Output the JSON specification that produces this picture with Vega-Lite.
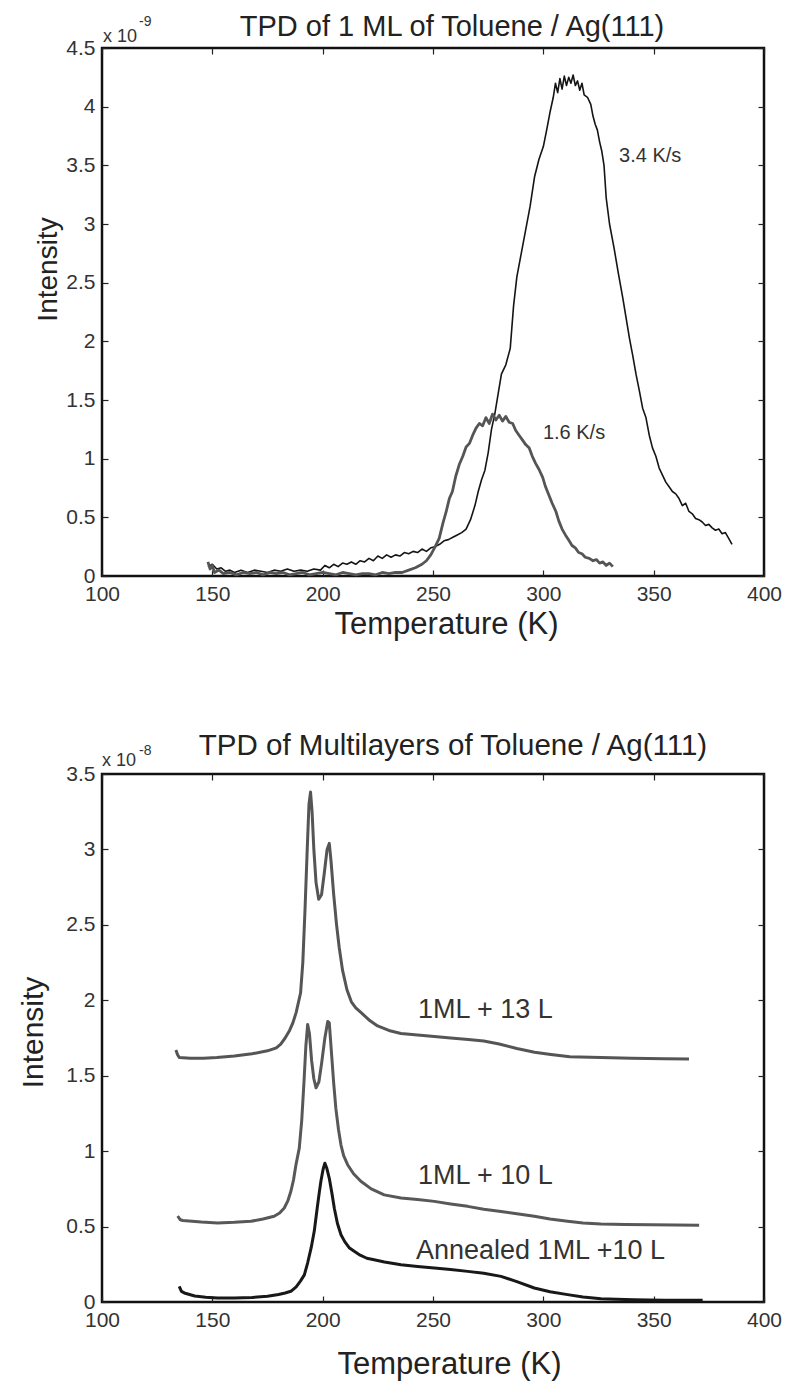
{
  "$schema": "https://vega.github.io/schema/vega-lite/v6.json",
  "background": "white",
  "padding": {"left": 16, "top": 11, "right": 5, "bottom": 5},
  "spacing": 88,
  "resolve": {"scale": {"color": "independent", "strokeWidth": "independent"}},
  "config": {
    "font": "Liberation Sans",
    "view": {"stroke": "#111111", "strokeWidth": 2.5},
    "axis": {
      "domain": false, "grid": false, "ticks": true, "tickSize": -6, "tickColor": "#222222", "tickWidth": 1.2,
      "labelFont": "Liberation Sans", "labelFontSize": 21, "labelColor": "#333333", "labelPadding": 13,
      "labelFlush": false, "labelOverlap": false, "labelBound": false,
      "titleFont": "Liberation Sans", "titleFontWeight": "normal", "titleColor": "#222222"
    }
  },
  "datasets": {
    "top": [
      {"T":148,"I":0.08,"series":"3.4 K/s"},{"T":150,"I":0.10,"series":"3.4 K/s"},{"T":152,"I":0.06,"series":"3.4 K/s"},{"T":154,"I":0.07,"series":"3.4 K/s"},{"T":156,"I":0.04,"series":"3.4 K/s"},{"T":158,"I":0.05,"series":"3.4 K/s"},{"T":160,"I":0.03,"series":"3.4 K/s"},{"T":163,"I":0.05,"series":"3.4 K/s"},{"T":166,"I":0.03,"series":"3.4 K/s"},{"T":169,"I":0.05,"series":"3.4 K/s"},{"T":172,"I":0.04,"series":"3.4 K/s"},{"T":175,"I":0.03,"series":"3.4 K/s"},{"T":178,"I":0.05,"series":"3.4 K/s"},{"T":181,"I":0.04,"series":"3.4 K/s"},{"T":184,"I":0.06,"series":"3.4 K/s"},{"T":187,"I":0.04,"series":"3.4 K/s"},{"T":190,"I":0.05,"series":"3.4 K/s"},{"T":193,"I":0.04,"series":"3.4 K/s"},{"T":196,"I":0.06,"series":"3.4 K/s"},{"T":199,"I":0.05,"series":"3.4 K/s"},{"T":201,"I":0.09,"series":"3.4 K/s"},{"T":203,"I":0.07,"series":"3.4 K/s"},{"T":205,"I":0.10,"series":"3.4 K/s"},{"T":207,"I":0.08,"series":"3.4 K/s"},{"T":209,"I":0.11,"series":"3.4 K/s"},{"T":211,"I":0.10,"series":"3.4 K/s"},{"T":213,"I":0.12,"series":"3.4 K/s"},{"T":215,"I":0.10,"series":"3.4 K/s"},{"T":217,"I":0.13,"series":"3.4 K/s"},{"T":219,"I":0.12,"series":"3.4 K/s"},{"T":221,"I":0.15,"series":"3.4 K/s"},{"T":223,"I":0.13,"series":"3.4 K/s"},{"T":225,"I":0.17,"series":"3.4 K/s"},{"T":227,"I":0.15,"series":"3.4 K/s"},{"T":229,"I":0.18,"series":"3.4 K/s"},{"T":231,"I":0.16,"series":"3.4 K/s"},{"T":233,"I":0.18,"series":"3.4 K/s"},{"T":235,"I":0.17,"series":"3.4 K/s"},{"T":237,"I":0.20,"series":"3.4 K/s"},{"T":239,"I":0.19,"series":"3.4 K/s"},{"T":241,"I":0.21,"series":"3.4 K/s"},{"T":243,"I":0.20,"series":"3.4 K/s"},{"T":245,"I":0.23,"series":"3.4 K/s"},{"T":247,"I":0.21,"series":"3.4 K/s"},{"T":249,"I":0.24,"series":"3.4 K/s"},{"T":251,"I":0.25,"series":"3.4 K/s"},{"T":253,"I":0.27,"series":"3.4 K/s"},{"T":255,"I":0.30,"series":"3.4 K/s"},{"T":257,"I":0.31,"series":"3.4 K/s"},{"T":259,"I":0.33,"series":"3.4 K/s"},{"T":261,"I":0.35,"series":"3.4 K/s"},{"T":263,"I":0.37,"series":"3.4 K/s"},{"T":265,"I":0.40,"series":"3.4 K/s"},{"T":267,"I":0.48,"series":"3.4 K/s"},{"T":269,"I":0.60,"series":"3.4 K/s"},{"T":270.5,"I":0.72,"series":"3.4 K/s"},{"T":272,"I":0.82,"series":"3.4 K/s"},{"T":273.5,"I":0.90,"series":"3.4 K/s"},{"T":275,"I":1.05,"series":"3.4 K/s"},{"T":276.5,"I":1.25,"series":"3.4 K/s"},{"T":278,"I":1.38,"series":"3.4 K/s"},{"T":279.5,"I":1.55,"series":"3.4 K/s"},{"T":281,"I":1.72,"series":"3.4 K/s"},{"T":283,"I":1.80,"series":"3.4 K/s"},{"T":285,"I":1.94,"series":"3.4 K/s"},{"T":286.5,"I":2.30,"series":"3.4 K/s"},{"T":288,"I":2.55,"series":"3.4 K/s"},{"T":290,"I":2.75,"series":"3.4 K/s"},{"T":292,"I":2.95,"series":"3.4 K/s"},{"T":294,"I":3.15,"series":"3.4 K/s"},{"T":296,"I":3.40,"series":"3.4 K/s"},{"T":298,"I":3.55,"series":"3.4 K/s"},{"T":300,"I":3.66,"series":"3.4 K/s"},{"T":301.5,"I":3.80,"series":"3.4 K/s"},{"T":303,"I":3.95,"series":"3.4 K/s"},{"T":304.5,"I":4.08,"series":"3.4 K/s"},{"T":305.5,"I":4.20,"series":"3.4 K/s"},{"T":306.5,"I":4.12,"series":"3.4 K/s"},{"T":307.5,"I":4.24,"series":"3.4 K/s"},{"T":308.5,"I":4.15,"series":"3.4 K/s"},{"T":309.5,"I":4.26,"series":"3.4 K/s"},{"T":310.5,"I":4.18,"series":"3.4 K/s"},{"T":311.5,"I":4.25,"series":"3.4 K/s"},{"T":312.5,"I":4.20,"series":"3.4 K/s"},{"T":313.5,"I":4.27,"series":"3.4 K/s"},{"T":314.5,"I":4.18,"series":"3.4 K/s"},{"T":315.5,"I":4.22,"series":"3.4 K/s"},{"T":316.5,"I":4.14,"series":"3.4 K/s"},{"T":317.5,"I":4.20,"series":"3.4 K/s"},{"T":318.5,"I":4.10,"series":"3.4 K/s"},{"T":320,"I":4.08,"series":"3.4 K/s"},{"T":321.5,"I":4.02,"series":"3.4 K/s"},{"T":322.5,"I":3.92,"series":"3.4 K/s"},{"T":323.5,"I":3.85,"series":"3.4 K/s"},{"T":324.5,"I":3.80,"series":"3.4 K/s"},{"T":325.5,"I":3.70,"series":"3.4 K/s"},{"T":326.5,"I":3.62,"series":"3.4 K/s"},{"T":327.5,"I":3.50,"series":"3.4 K/s"},{"T":328.5,"I":3.22,"series":"3.4 K/s"},{"T":330,"I":3.00,"series":"3.4 K/s"},{"T":332,"I":2.80,"series":"3.4 K/s"},{"T":334,"I":2.58,"series":"3.4 K/s"},{"T":336,"I":2.37,"series":"3.4 K/s"},{"T":337.5,"I":2.20,"series":"3.4 K/s"},{"T":339,"I":2.03,"series":"3.4 K/s"},{"T":340.5,"I":1.88,"series":"3.4 K/s"},{"T":342,"I":1.72,"series":"3.4 K/s"},{"T":343.5,"I":1.58,"series":"3.4 K/s"},{"T":345,"I":1.43,"series":"3.4 K/s"},{"T":346.5,"I":1.35,"series":"3.4 K/s"},{"T":348,"I":1.20,"series":"3.4 K/s"},{"T":349.5,"I":1.09,"series":"3.4 K/s"},{"T":351,"I":1.02,"series":"3.4 K/s"},{"T":352.5,"I":0.92,"series":"3.4 K/s"},{"T":354,"I":0.86,"series":"3.4 K/s"},{"T":355.5,"I":0.80,"series":"3.4 K/s"},{"T":357,"I":0.76,"series":"3.4 K/s"},{"T":358.5,"I":0.72,"series":"3.4 K/s"},{"T":360,"I":0.70,"series":"3.4 K/s"},{"T":361.5,"I":0.66,"series":"3.4 K/s"},{"T":363,"I":0.60,"series":"3.4 K/s"},{"T":364.5,"I":0.62,"series":"3.4 K/s"},{"T":366,"I":0.55,"series":"3.4 K/s"},{"T":367.5,"I":0.53,"series":"3.4 K/s"},{"T":369,"I":0.49,"series":"3.4 K/s"},{"T":370.5,"I":0.48,"series":"3.4 K/s"},{"T":372,"I":0.46,"series":"3.4 K/s"},{"T":373.5,"I":0.43,"series":"3.4 K/s"},{"T":375,"I":0.44,"series":"3.4 K/s"},{"T":376.5,"I":0.41,"series":"3.4 K/s"},{"T":378,"I":0.39,"series":"3.4 K/s"},{"T":379.5,"I":0.40,"series":"3.4 K/s"},{"T":381,"I":0.36,"series":"3.4 K/s"},{"T":382.5,"I":0.37,"series":"3.4 K/s"},{"T":384,"I":0.32,"series":"3.4 K/s"},{"T":385.5,"I":0.27,"series":"3.4 K/s"},
      {"T":148,"I":0.12,"series":"1.6 K/s"},{"T":149,"I":0.06,"series":"1.6 K/s"},{"T":150,"I":0.09,"series":"1.6 K/s"},{"T":151,"I":0.03,"series":"1.6 K/s"},{"T":153,"I":0.05,"series":"1.6 K/s"},{"T":155,"I":0.02,"series":"1.6 K/s"},{"T":158,"I":0.03,"series":"1.6 K/s"},{"T":161,"I":0.01,"series":"1.6 K/s"},{"T":164,"I":0.03,"series":"1.6 K/s"},{"T":167,"I":0.02,"series":"1.6 K/s"},{"T":170,"I":0.03,"series":"1.6 K/s"},{"T":173,"I":0.01,"series":"1.6 K/s"},{"T":176,"I":0.03,"series":"1.6 K/s"},{"T":179,"I":0.02,"series":"1.6 K/s"},{"T":182,"I":0.03,"series":"1.6 K/s"},{"T":185,"I":0.01,"series":"1.6 K/s"},{"T":188,"I":0.02,"series":"1.6 K/s"},{"T":191,"I":0.03,"series":"1.6 K/s"},{"T":194,"I":0.01,"series":"1.6 K/s"},{"T":197,"I":0.02,"series":"1.6 K/s"},{"T":200,"I":0.03,"series":"1.6 K/s"},{"T":203,"I":0.02,"series":"1.6 K/s"},{"T":206,"I":0.01,"series":"1.6 K/s"},{"T":209,"I":0.03,"series":"1.6 K/s"},{"T":212,"I":0.02,"series":"1.6 K/s"},{"T":215,"I":0.01,"series":"1.6 K/s"},{"T":218,"I":0.02,"series":"1.6 K/s"},{"T":221,"I":0.02,"series":"1.6 K/s"},{"T":224,"I":0.01,"series":"1.6 K/s"},{"T":227,"I":0.03,"series":"1.6 K/s"},{"T":230,"I":0.02,"series":"1.6 K/s"},{"T":233,"I":0.03,"series":"1.6 K/s"},{"T":236,"I":0.03,"series":"1.6 K/s"},{"T":239,"I":0.05,"series":"1.6 K/s"},{"T":242,"I":0.07,"series":"1.6 K/s"},{"T":245,"I":0.10,"series":"1.6 K/s"},{"T":247,"I":0.13,"series":"1.6 K/s"},{"T":249,"I":0.18,"series":"1.6 K/s"},{"T":251,"I":0.25,"series":"1.6 K/s"},{"T":252.8,"I":0.32,"series":"1.6 K/s"},{"T":254.5,"I":0.45,"series":"1.6 K/s"},{"T":256,"I":0.55,"series":"1.6 K/s"},{"T":257.4,"I":0.66,"series":"1.6 K/s"},{"T":258.8,"I":0.72,"series":"1.6 K/s"},{"T":260.3,"I":0.85,"series":"1.6 K/s"},{"T":261.9,"I":0.95,"series":"1.6 K/s"},{"T":263.5,"I":1.02,"series":"1.6 K/s"},{"T":265,"I":1.10,"series":"1.6 K/s"},{"T":266.5,"I":1.13,"series":"1.6 K/s"},{"T":268,"I":1.20,"series":"1.6 K/s"},{"T":269.5,"I":1.26,"series":"1.6 K/s"},{"T":271,"I":1.30,"series":"1.6 K/s"},{"T":272.5,"I":1.28,"series":"1.6 K/s"},{"T":274,"I":1.35,"series":"1.6 K/s"},{"T":275.5,"I":1.30,"series":"1.6 K/s"},{"T":277,"I":1.38,"series":"1.6 K/s"},{"T":278.5,"I":1.33,"series":"1.6 K/s"},{"T":280,"I":1.37,"series":"1.6 K/s"},{"T":281.5,"I":1.32,"series":"1.6 K/s"},{"T":283,"I":1.36,"series":"1.6 K/s"},{"T":284.5,"I":1.31,"series":"1.6 K/s"},{"T":286.1,"I":1.30,"series":"1.6 K/s"},{"T":287.5,"I":1.24,"series":"1.6 K/s"},{"T":289,"I":1.20,"series":"1.6 K/s"},{"T":290.5,"I":1.16,"series":"1.6 K/s"},{"T":292,"I":1.12,"series":"1.6 K/s"},{"T":293.6,"I":1.09,"series":"1.6 K/s"},{"T":295,"I":1.02,"series":"1.6 K/s"},{"T":296.5,"I":0.96,"series":"1.6 K/s"},{"T":298,"I":0.91,"series":"1.6 K/s"},{"T":299.7,"I":0.84,"series":"1.6 K/s"},{"T":301,"I":0.76,"series":"1.6 K/s"},{"T":302.5,"I":0.69,"series":"1.6 K/s"},{"T":304,"I":0.62,"series":"1.6 K/s"},{"T":305.7,"I":0.55,"series":"1.6 K/s"},{"T":307,"I":0.47,"series":"1.6 K/s"},{"T":308.5,"I":0.40,"series":"1.6 K/s"},{"T":310,"I":0.35,"series":"1.6 K/s"},{"T":311.7,"I":0.30,"series":"1.6 K/s"},{"T":313,"I":0.26,"series":"1.6 K/s"},{"T":314.5,"I":0.24,"series":"1.6 K/s"},{"T":316,"I":0.20,"series":"1.6 K/s"},{"T":317.5,"I":0.19,"series":"1.6 K/s"},{"T":319,"I":0.16,"series":"1.6 K/s"},{"T":320.8,"I":0.15,"series":"1.6 K/s"},{"T":322.5,"I":0.13,"series":"1.6 K/s"},{"T":324,"I":0.14,"series":"1.6 K/s"},{"T":325.5,"I":0.11,"series":"1.6 K/s"},{"T":327,"I":0.12,"series":"1.6 K/s"},{"T":328.5,"I":0.09,"series":"1.6 K/s"},{"T":330,"I":0.11,"series":"1.6 K/s"},{"T":331.5,"I":0.08,"series":"1.6 K/s"}
    ],
    "bottom": [
      {"T":133.5,"I":1.67,"series":"13L"},{"T":134.2,"I":1.64,"series":"13L"},{"T":135,"I":1.62,"series":"13L"},{"T":140,"I":1.615,"series":"13L"},{"T":146,"I":1.615,"series":"13L"},{"T":152,"I":1.62,"series":"13L"},{"T":160,"I":1.63,"series":"13L"},{"T":168,"I":1.645,"series":"13L"},{"T":175,"I":1.665,"series":"13L"},{"T":179,"I":1.685,"series":"13L"},{"T":181,"I":1.71,"series":"13L"},{"T":183,"I":1.75,"series":"13L"},{"T":185,"I":1.80,"series":"13L"},{"T":186.5,"I":1.85,"series":"13L"},{"T":188,"I":1.92,"series":"13L"},{"T":190,"I":2.05,"series":"13L"},{"T":191,"I":2.25,"series":"13L"},{"T":192,"I":2.6,"series":"13L"},{"T":193,"I":3.0,"series":"13L"},{"T":193.8,"I":3.3,"series":"13L"},{"T":194.5,"I":3.38,"series":"13L"},{"T":195.2,"I":3.25,"series":"13L"},{"T":196,"I":3.0,"series":"13L"},{"T":197,"I":2.78,"series":"13L"},{"T":198.2,"I":2.67,"series":"13L"},{"T":199.5,"I":2.70,"series":"13L"},{"T":200.8,"I":2.85,"series":"13L"},{"T":202,"I":3.0,"series":"13L"},{"T":203,"I":3.04,"series":"13L"},{"T":203.8,"I":2.92,"series":"13L"},{"T":205,"I":2.7,"series":"13L"},{"T":206.3,"I":2.5,"series":"13L"},{"T":207.5,"I":2.35,"series":"13L"},{"T":209,"I":2.2,"series":"13L"},{"T":211,"I":2.07,"series":"13L"},{"T":213,"I":1.99,"series":"13L"},{"T":215,"I":1.95,"series":"13L"},{"T":217.3,"I":1.92,"series":"13L"},{"T":221,"I":1.87,"series":"13L"},{"T":224.9,"I":1.83,"series":"13L"},{"T":230,"I":1.80,"series":"13L"},{"T":235.5,"I":1.78,"series":"13L"},{"T":243,"I":1.77,"series":"13L"},{"T":250.6,"I":1.76,"series":"13L"},{"T":258,"I":1.75,"series":"13L"},{"T":266,"I":1.74,"series":"13L"},{"T":273,"I":1.73,"series":"13L"},{"T":280,"I":1.71,"series":"13L"},{"T":288,"I":1.68,"series":"13L"},{"T":296,"I":1.655,"series":"13L"},{"T":303.4,"I":1.64,"series":"13L"},{"T":312,"I":1.625,"series":"13L"},{"T":326,"I":1.62,"series":"13L"},{"T":340,"I":1.615,"series":"13L"},{"T":355,"I":1.612,"series":"13L"},{"T":366,"I":1.61,"series":"13L"},
      {"T":134.3,"I":0.57,"series":"10L"},{"T":135.5,"I":0.545,"series":"10L"},{"T":136.6,"I":0.54,"series":"10L"},{"T":145,"I":0.53,"series":"10L"},{"T":152.4,"I":0.524,"series":"10L"},{"T":160,"I":0.528,"series":"10L"},{"T":167.5,"I":0.535,"series":"10L"},{"T":173,"I":0.55,"series":"10L"},{"T":178,"I":0.568,"series":"10L"},{"T":180.5,"I":0.59,"series":"10L"},{"T":182.6,"I":0.623,"series":"10L"},{"T":184.2,"I":0.67,"series":"10L"},{"T":185.6,"I":0.734,"series":"10L"},{"T":186.8,"I":0.81,"series":"10L"},{"T":187.9,"I":0.91,"series":"10L"},{"T":189.4,"I":1.02,"series":"10L"},{"T":190.5,"I":1.2,"series":"10L"},{"T":191.5,"I":1.45,"series":"10L"},{"T":192.4,"I":1.7,"series":"10L"},{"T":193.2,"I":1.84,"series":"10L"},{"T":194,"I":1.78,"series":"10L"},{"T":195,"I":1.6,"series":"10L"},{"T":196,"I":1.48,"series":"10L"},{"T":197,"I":1.42,"series":"10L"},{"T":198.3,"I":1.46,"series":"10L"},{"T":199.5,"I":1.58,"series":"10L"},{"T":201,"I":1.75,"series":"10L"},{"T":202.3,"I":1.86,"series":"10L"},{"T":203,"I":1.85,"series":"10L"},{"T":204,"I":1.65,"series":"10L"},{"T":205,"I":1.45,"series":"10L"},{"T":206,"I":1.28,"series":"10L"},{"T":207.2,"I":1.14,"series":"10L"},{"T":208.3,"I":1.04,"series":"10L"},{"T":209.5,"I":0.97,"series":"10L"},{"T":211.3,"I":0.91,"series":"10L"},{"T":214,"I":0.85,"series":"10L"},{"T":217.3,"I":0.80,"series":"10L"},{"T":222,"I":0.75,"series":"10L"},{"T":227.9,"I":0.71,"series":"10L"},{"T":235.5,"I":0.69,"series":"10L"},{"T":243,"I":0.68,"series":"10L"},{"T":250.6,"I":0.667,"series":"10L"},{"T":258,"I":0.65,"series":"10L"},{"T":265.7,"I":0.634,"series":"10L"},{"T":273,"I":0.615,"series":"10L"},{"T":280.8,"I":0.60,"series":"10L"},{"T":288,"I":0.585,"series":"10L"},{"T":295.9,"I":0.568,"series":"10L"},{"T":303,"I":0.55,"series":"10L"},{"T":311,"I":0.535,"series":"10L"},{"T":318,"I":0.524,"series":"10L"},{"T":326.1,"I":0.517,"series":"10L"},{"T":337,"I":0.513,"series":"10L"},{"T":348.8,"I":0.512,"series":"10L"},{"T":360,"I":0.51,"series":"10L"},{"T":370.6,"I":0.508,"series":"10L"},
      {"T":135,"I":0.104,"series":"Annealed"},{"T":136,"I":0.07,"series":"Annealed"},{"T":137.3,"I":0.06,"series":"Annealed"},{"T":142,"I":0.04,"series":"Annealed"},{"T":147,"I":0.032,"series":"Annealed"},{"T":152.4,"I":0.027,"series":"Annealed"},{"T":160,"I":0.027,"series":"Annealed"},{"T":168,"I":0.03,"series":"Annealed"},{"T":175,"I":0.038,"series":"Annealed"},{"T":180,"I":0.05,"series":"Annealed"},{"T":183,"I":0.06,"series":"Annealed"},{"T":185.6,"I":0.071,"series":"Annealed"},{"T":188,"I":0.1,"series":"Annealed"},{"T":190,"I":0.14,"series":"Annealed"},{"T":191.7,"I":0.18,"series":"Annealed"},{"T":193.2,"I":0.26,"series":"Annealed"},{"T":194.8,"I":0.36,"series":"Annealed"},{"T":196.2,"I":0.47,"series":"Annealed"},{"T":197.5,"I":0.62,"series":"Annealed"},{"T":198.5,"I":0.73,"series":"Annealed"},{"T":199.2,"I":0.80,"series":"Annealed"},{"T":200.2,"I":0.88,"series":"Annealed"},{"T":201,"I":0.92,"series":"Annealed"},{"T":201.8,"I":0.89,"series":"Annealed"},{"T":203,"I":0.82,"series":"Annealed"},{"T":204.2,"I":0.72,"series":"Annealed"},{"T":205.3,"I":0.62,"series":"Annealed"},{"T":206.7,"I":0.52,"series":"Annealed"},{"T":208.3,"I":0.446,"series":"Annealed"},{"T":210,"I":0.40,"series":"Annealed"},{"T":212,"I":0.36,"series":"Annealed"},{"T":214.3,"I":0.336,"series":"Annealed"},{"T":217,"I":0.31,"series":"Annealed"},{"T":220,"I":0.29,"series":"Annealed"},{"T":223.3,"I":0.28,"series":"Annealed"},{"T":228,"I":0.265,"series":"Annealed"},{"T":235.5,"I":0.247,"series":"Annealed"},{"T":243,"I":0.235,"series":"Annealed"},{"T":250.6,"I":0.225,"series":"Annealed"},{"T":258,"I":0.215,"series":"Annealed"},{"T":265.7,"I":0.203,"series":"Annealed"},{"T":273,"I":0.19,"series":"Annealed"},{"T":280.8,"I":0.17,"series":"Annealed"},{"T":288,"I":0.135,"series":"Annealed"},{"T":295.9,"I":0.093,"series":"Annealed"},{"T":303,"I":0.068,"series":"Annealed"},{"T":311,"I":0.049,"series":"Annealed"},{"T":318,"I":0.033,"series":"Annealed"},{"T":326.1,"I":0.022,"series":"Annealed"},{"T":333,"I":0.018,"series":"Annealed"},{"T":341.2,"I":0.015,"series":"Annealed"},{"T":355,"I":0.012,"series":"Annealed"},{"T":365,"I":0.011,"series":"Annealed"},{"T":372.2,"I":0.011,"series":"Annealed"}
    ]
  },
  "vconcat": [
    {
      "width": 662,
      "height": 528,
      "title": {"text": "TPD of 1 ML of Toluene / Ag(111)", "fontSize": 29, "fontWeight": "normal", "color": "#222222", "frame": "group", "anchor": "middle", "dx": 19, "baseline": "alphabetic", "offset": -50},
      "layer": [
        {
          "data": {"name": "top"},
          "mark": {"type": "line", "strokeJoin": "round"},
          "encoding": {
            "x": {"field": "T", "type": "quantitative", "scale": {"domain": [100, 400], "nice": false, "zero": false},
                  "axis": {"orient": "bottom", "values": [100,150,200,250,300,350,400], "title": "Temperature (K)", "titleFontSize": 31, "titleX": 344, "titleY": 57, "titleBaseline": "alphabetic"}},
            "y": {"field": "I", "type": "quantitative", "scale": {"domain": [0, 4.5], "nice": false},
                  "axis": {"orient": "left", "values": [0,0.5,1,1.5,2,2.5,3,3.5,4,4.5], "format": "~g", "title": "Intensity", "titleFontSize": 28, "titleX": -46, "titleY": 221, "titleBaseline": "alphabetic", "titleAngle": -90}},
            "color": {"field": "series", "type": "nominal", "scale": {"domain": ["3.4 K/s", "1.6 K/s"], "range": ["#151515", "#555555"]}, "legend": null},
            "strokeWidth": {"field": "series", "type": "nominal", "scale": {"domain": ["3.4 K/s", "1.6 K/s"], "range": [1.6, 2.8]}, "legend": null}
          }
        },
        {
          "data": {"name": "top"},
          "mark": {"type": "point", "opacity": 0, "size": 0},
          "encoding": {
            "x": {"field": "T", "type": "quantitative", "scale": {"domain": [100, 400], "nice": false, "zero": false},
                  "axis": {"orient": "top", "values": [100,150,200,250,300,350,400], "labels": false, "title": null}},
            "y": {"field": "I", "type": "quantitative", "scale": {"domain": [0, 4.5], "nice": false},
                  "axis": {"orient": "right", "values": [0,0.5,1,1.5,2,2.5,3,3.5,4,4.5], "labels": false, "title": null}}
          }
        },
        {
          "data": {"values": [{"T": 334.3, "I": 3.58, "label": "3.4 K/s"}, {"T": 299.8, "I": 1.22, "label": "1.6 K/s"}]},
          "mark": {"type": "text", "align": "left", "baseline": "middle", "fontSize": 20, "color": "#333333"},
          "encoding": {
            "x": {"field": "T", "type": "quantitative", "axis": null},
            "y": {"field": "I", "type": "quantitative", "axis": null},
            "text": {"field": "label"}
          }
        },
        {
          "data": {"values": [{"T": 100, "I": 4.5, "label": "x 10"}]},
          "mark": {"type": "text", "align": "left", "baseline": "alphabetic", "fontSize": 18, "color": "#333333", "dx": 1, "dy": -6},
          "encoding": {
            "x": {"field": "T", "type": "quantitative", "axis": null},
            "y": {"field": "I", "type": "quantitative", "axis": null},
            "text": {"field": "label"}
          }
        },
        {
          "data": {"values": [{"T": 100, "I": 4.5, "label": "-9"}]},
          "mark": {"type": "text", "align": "left", "baseline": "alphabetic", "fontSize": 14, "color": "#333333", "dx": 37, "dy": -22},
          "encoding": {
            "x": {"field": "T", "type": "quantitative", "axis": null},
            "y": {"field": "I", "type": "quantitative", "axis": null},
            "text": {"field": "label"}
          }
        }
      ],
      "resolve": {"axis": {"x": "independent", "y": "independent"}}
    },
    {
      "width": 662,
      "height": 528,
      "title": {"text": "TPD of Multilayers of Toluene / Ag(111)", "fontSize": 29.5, "fontWeight": "normal", "color": "#222222", "frame": "group", "anchor": "middle", "dx": 20, "baseline": "alphabetic", "offset": -40},
      "layer": [
        {
          "data": {"name": "bottom"},
          "mark": {"type": "line", "strokeJoin": "round"},
          "encoding": {
            "x": {"field": "T", "type": "quantitative", "scale": {"domain": [100, 400], "nice": false, "zero": false},
                  "axis": {"orient": "bottom", "values": [100,150,200,250,300,350,400], "title": "Temperature (K)", "titleFontSize": 31, "titleX": 347, "titleY": 71, "titleBaseline": "alphabetic"}},
            "y": {"field": "I", "type": "quantitative", "scale": {"domain": [0, 3.5], "nice": false},
                  "axis": {"orient": "left", "values": [0,0.5,1,1.5,2,2.5,3,3.5], "format": "~g", "title": "Intensity", "titleFontSize": 30, "titleX": -60, "titleY": 258, "titleBaseline": "alphabetic", "titleAngle": -90}},
            "color": {"field": "series", "type": "nominal", "scale": {"domain": ["13L", "10L", "Annealed"], "range": ["#555555", "#585858", "#181818"]}, "legend": null},
            "strokeWidth": {"value": 3}
          }
        },
        {
          "data": {"name": "bottom"},
          "mark": {"type": "point", "opacity": 0, "size": 0},
          "encoding": {
            "x": {"field": "T", "type": "quantitative", "scale": {"domain": [100, 400], "nice": false, "zero": false},
                  "axis": {"orient": "top", "values": [100,150,200,250,300,350,400], "labels": false, "title": null}},
            "y": {"field": "I", "type": "quantitative", "scale": {"domain": [0, 3.5], "nice": false},
                  "axis": {"orient": "right", "values": [0,0.5,1,1.5,2,2.5,3,3.5], "labels": false, "title": null}}
          }
        },
        {
          "data": {"values": [{"T": 243.2, "I": 1.936, "label": "1ML + 13 L"}, {"T": 243.2, "I": 0.835, "label": "1ML + 10 L"}, {"T": 242.3, "I": 0.338, "label": "Annealed 1ML +10 L"}]},
          "mark": {"type": "text", "align": "left", "baseline": "middle", "fontSize": 27, "color": "#333333"},
          "encoding": {
            "x": {"field": "T", "type": "quantitative", "axis": null},
            "y": {"field": "I", "type": "quantitative", "axis": null},
            "text": {"field": "label"}
          }
        },
        {
          "data": {"values": [{"T": 100, "I": 3.5, "label": "x 10"}]},
          "mark": {"type": "text", "align": "left", "baseline": "alphabetic", "fontSize": 18, "color": "#333333", "dx": 0, "dy": -8},
          "encoding": {
            "x": {"field": "T", "type": "quantitative", "axis": null},
            "y": {"field": "I", "type": "quantitative", "axis": null},
            "text": {"field": "label"}
          }
        },
        {
          "data": {"values": [{"T": 100, "I": 3.5, "label": "-8"}]},
          "mark": {"type": "text", "align": "left", "baseline": "alphabetic", "fontSize": 14, "color": "#333333", "dx": 37, "dy": -19},
          "encoding": {
            "x": {"field": "T", "type": "quantitative", "axis": null},
            "y": {"field": "I", "type": "quantitative", "axis": null},
            "text": {"field": "label"}
          }
        }
      ],
      "resolve": {"axis": {"x": "independent", "y": "independent"}}
    }
  ]
}
